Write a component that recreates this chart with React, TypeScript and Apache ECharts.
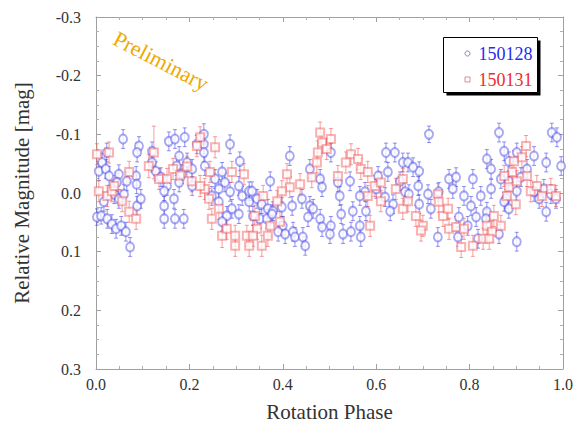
import React, { useEffect, useRef } from "react";
import * as echarts from "echarts";

// [phase, relative magnitude, error]
const series150128: number[][] = [
  [0.058,-0.092,0.016],[0.092,-0.080,0.016],[0.088,-0.069,0.016],[0.023,-0.069,0.016],[0.013,-0.052,0.016],[0.006,-0.037,0.016],[0.021,-0.041,0.016],[0.028,-0.029,0.016],[0.049,-0.032,0.016],[0.045,-0.018,0.016],[0.066,-0.020,0.016],[0.086,-0.029,0.016],[0.087,-0.015,0.016],[0.120,-0.071,0.016],[0.120,-0.052,0.016],[0.128,-0.037,0.016],[0.139,-0.027,0.016],[0.152,-0.012,0.016],[0.146,-0.003,0.016],[0.156,-0.088,0.016],[0.146,0.022,0.016],[0.146,0.044,0.016],[0.088,0.022,0.016],[0.096,0.010,0.016],[0.039,0.002,0.016],[0.049,0.010,0.016],[0.060,0.002,0.016],[0.002,0.041,0.014],[0.011,0.039,0.014],[0.024,0.044,0.016],[0.034,0.053,0.016],[0.043,0.061,0.016],[0.054,0.056,0.016],[0.064,0.066,0.016],[0.073,0.092,0.016],[0.017,0.015,0.016],
  [0.169,-0.092,0.016],[0.190,-0.095,0.016],[0.216,-0.083,0.016],[0.231,-0.100,0.018],[0.231,-0.083,0.016],[0.231,-0.069,0.016],[0.287,-0.083,0.016],[0.308,-0.054,0.016],[0.178,-0.063,0.016],[0.173,-0.046,0.016],[0.195,-0.052,0.016],[0.206,-0.041,0.016],[0.233,-0.046,0.016],[0.184,-0.032,0.016],[0.178,-0.018,0.016],[0.206,-0.012,0.016],[0.255,-0.024,0.016],[0.270,-0.036,0.016],[0.276,-0.018,0.016],[0.263,-0.007,0.016],[0.248,0.005,0.016],[0.287,-0.002,0.016],[0.306,-0.012,0.016],[0.313,0.005,0.016],[0.328,-0.003,0.016],[0.167,0.010,0.016],[0.169,0.044,0.016],[0.188,0.044,0.016],[0.263,0.015,0.016],[0.291,0.027,0.016],[0.280,0.039,0.016],[0.306,0.036,0.016],[0.328,0.015,0.016],[0.270,0.049,0.016],
  [0.415,-0.063,0.016],[0.373,-0.020,0.016],[0.458,-0.041,0.016],[0.480,-0.024,0.016],[0.484,-0.010,0.016],[0.334,-0.003,0.016],[0.345,0.010,0.016],[0.355,0.019,0.016],[0.368,0.027,0.016],[0.379,0.031,0.016],[0.398,0.024,0.016],[0.420,0.022,0.016],[0.441,0.010,0.016],[0.458,0.022,0.016],[0.465,0.027,0.016],[0.336,0.039,0.016],[0.351,0.044,0.016],[0.366,0.044,0.016],[0.377,0.036,0.016],[0.454,0.041,0.016],[0.480,0.044,0.016],[0.484,0.058,0.016],[0.400,0.056,0.016],[0.390,0.066,0.016],[0.405,0.070,0.016],[0.422,0.066,0.016],[0.426,0.075,0.016],[0.443,0.075,0.016],[0.448,0.090,0.016],
  [0.503,-0.069,0.016],[0.621,-0.069,0.016],[0.640,-0.069,0.016],[0.657,-0.052,0.016],[0.625,-0.036,0.016],[0.604,-0.029,0.016],[0.544,-0.020,0.016],[0.518,-0.018,0.016],[0.576,-0.002,0.016],[0.600,-0.007,0.016],[0.651,-0.020,0.016],[0.662,-0.002,0.016],[0.565,0.005,0.016],[0.619,0.007,0.016],[0.636,0.019,0.016],[0.522,0.005,0.016],[0.525,0.036,0.016],[0.550,0.031,0.016],[0.578,0.031,0.016],[0.630,0.031,0.016],[0.503,0.056,0.016],[0.529,0.070,0.016],[0.546,0.066,0.016],[0.565,0.056,0.016],[0.567,0.075,0.016],[0.501,0.070,0.016],
  [0.713,-0.100,0.014],[0.668,-0.052,0.016],[0.692,-0.037,0.016],[0.679,-0.044,0.016],[0.756,-0.024,0.016],[0.771,-0.027,0.016],[0.807,-0.024,0.016],[0.690,-0.012,0.016],[0.670,0.002,0.016],[0.711,0.002,0.016],[0.734,-0.002,0.016],[0.764,-0.007,0.016],[0.788,0.005,0.016],[0.824,0.005,0.016],[0.692,0.019,0.016],[0.717,0.027,0.016],[0.803,0.022,0.016],[0.777,0.041,0.016],[0.814,0.041,0.016],[0.732,0.075,0.016],[0.775,0.075,0.016],[0.818,0.078,0.016],[0.796,0.056,0.016],
  [0.863,-0.103,0.016],[0.874,-0.071,0.016],[0.837,-0.058,0.016],[0.846,-0.041,0.016],[0.884,-0.054,0.016],[0.901,-0.069,0.016],[0.923,-0.041,0.016],[0.938,-0.063,0.016],[0.964,-0.052,0.016],[0.976,-0.103,0.016],[0.987,-0.095,0.016],[0.996,-0.046,0.016],[0.867,-0.024,0.016],[0.884,-0.020,0.016],[0.910,-0.027,0.016],[0.846,-0.007,0.016],[0.901,-0.003,0.016],[0.938,-0.002,0.016],[0.959,-0.007,0.016],[0.974,0.002,0.016],[0.985,0.010,0.016],[0.949,0.010,0.016],[0.964,0.032,0.016],[0.878,0.010,0.016],[0.874,0.015,0.016],[0.884,0.027,0.016],[0.837,0.032,0.016],[0.835,0.044,0.016],[0.863,0.070,0.016],[0.901,0.083,0.016]
];

const series150131: number[][] = [
  [0.002,-0.066,0.018],[0.028,-0.069,0.018],[0.006,-0.003,0.018],[0.024,0.005,0.018],[0.034,-0.003,0.018],[0.039,-0.012,0.018],[0.056,0.014,0.018],[0.071,0.032,0.018],[0.086,0.044,0.018],[0.124,-0.069,0.045],[0.113,-0.046,0.020],[0.135,-0.024,0.018],[0.152,-0.024,0.018],[0.071,-0.036,0.018],
  [0.165,-0.041,0.018],[0.180,-0.030,0.018],[0.195,-0.045,0.018],[0.205,-0.020,0.018],[0.223,-0.095,0.018],
  [0.255,-0.078,0.018],[0.216,-0.080,0.018],[0.244,-0.036,0.018],[0.233,-0.007,0.018],[0.242,0.010,0.018],[0.263,0.027,0.018],[0.248,0.044,0.018],[0.270,0.073,0.020],[0.280,0.061,0.018],[0.298,0.073,0.018],[0.323,0.073,0.018],[0.298,0.090,0.018],[0.328,0.090,0.018],[0.223,-0.012,0.018],[0.291,-0.036,0.018],[0.317,-0.032,0.018],
  [0.480,-0.103,0.018],[0.484,-0.086,0.018],[0.475,-0.069,0.020],[0.494,-0.075,0.018],[0.473,-0.052,0.018],[0.462,-0.027,0.018],[0.437,-0.015,0.018],[0.409,-0.032,0.018],[0.415,-0.010,0.018],[0.398,-0.003,0.018],[0.388,0.014,0.018],[0.358,0.005,0.018],[0.345,0.061,0.018],[0.336,0.073,0.018],[0.355,0.090,0.018],[0.368,0.073,0.018],[0.373,0.056,0.018],[0.394,0.049,0.018],[0.340,0.039,0.018],
  [0.503,-0.092,0.018],[0.546,-0.066,0.018],[0.561,-0.058,0.018],[0.535,-0.052,0.018],[0.567,-0.041,0.018],[0.582,-0.036,0.018],[0.518,-0.029,0.018],[0.597,-0.012,0.018],[0.610,-0.018,0.018],[0.582,0.005,0.018],[0.642,-0.007,0.018],[0.657,-0.024,0.018],[0.587,0.056,0.018],[0.610,0.014,0.018],[0.657,0.027,0.018],
  [0.668,0.014,0.018],[0.685,0.039,0.018],[0.700,0.056,0.018],[0.696,0.064,0.018],[0.743,0.039,0.018],[0.754,0.027,0.018],[0.756,0.061,0.018],[0.771,0.058,0.018],[0.788,0.061,0.018],[0.782,0.092,0.018],[0.807,0.090,0.018],[0.829,0.078,0.018],[0.732,0.002,0.018],[0.734,0.015,0.018],
  [0.921,-0.080,0.018],[0.912,-0.061,0.018],[0.895,-0.054,0.018],[0.891,-0.036,0.018],[0.874,-0.029,0.018],[0.923,-0.029,0.018],[0.884,-0.010,0.018],[0.880,0.005,0.018],[0.899,0.019,0.018],[0.931,-0.003,0.018],[0.944,-0.012,0.018],[0.955,0.005,0.018],[0.974,-0.007,0.018],[0.985,0.005,0.018],[0.852,0.039,0.018],[0.837,0.056,0.018],[0.848,0.066,0.018],[0.867,0.056,0.018],[0.842,0.078,0.018],[0.901,-0.020,0.018]
];

const seriesNames = ["150128", "150131"];
const xTickValues = [0, 0.2, 0.4, 0.6, 0.8, 1.0];
const yTickValues = [-0.3, -0.2, -0.1, 0.0, 0.1, 0.2, 0.3];

const BLUE = "rgba(60,60,230,0.55)";
const RED = "rgba(240,80,80,0.55)";
const FONT = "Liberation Serif";

function fmt(v: number) {
  if (Math.abs(v) < 1e-9) return "0.0";
  return v.toFixed(1);
}

function errRender(color: string) {
  return (params: any, api: any) => {
    const x = api.value(0);
    const y = api.value(1);
    const e = api.value(2);
    const p1 = api.coord([x, y - e]);
    const p2 = api.coord([x, y + e]);
    const style = { stroke: color, lineWidth: 1 };
    return {
      type: "group",
      children: [
        { type: "line", shape: { x1: p1[0], y1: p1[1], x2: p2[0], y2: p2[1] }, style },
        { type: "line", shape: { x1: p1[0] - 2, y1: p1[1], x2: p1[0] + 2, y2: p1[1] }, style },
        { type: "line", shape: { x1: p2[0] - 2, y1: p2[1], x2: p2[0] + 2, y2: p2[1] }, style },
      ],
    };
  };
}

export default function App() {
  const ref = useRef<HTMLDivElement>(null);
  useEffect(() => {
    if (!ref.current) return;
    const chart = echarts.init(ref.current, null, { renderer: "svg" });
    const axisCommon = {
      min: 0,
      max: 1,
      interval: 0.2,
      axisLine: { onZero: false, lineStyle: { color: "#a0a0a0" } },
      axisTick: { inside: true, length: 5, lineStyle: { color: "#a0a0a0" } },
      minorTick: { show: true, splitNumber: 4, length: 3, lineStyle: { color: "#b0b0b0" } },
      splitLine: { show: false },
    };
    const yCommon = {
      min: -0.3,
      max: 0.3,
      interval: 0.1,
      inverse: true,
      axisLine: { onZero: false, lineStyle: { color: "#a0a0a0" } },
      axisTick: { inside: true, length: 5, lineStyle: { color: "#a0a0a0" } },
      minorTick: { show: true, splitNumber: 4, length: 3, lineStyle: { color: "#b0b0b0" } },
      splitLine: { show: false },
    };
    chart.setOption({
      animation: false,
      backgroundColor: "#ffffff",
      grid: { left: 96, width: 467, top: 17, height: 354, containLabel: false },
      xAxis: [
        {
          ...axisCommon,
          type: "value",
          position: "bottom",
          name: "Rotation Phase",
          nameLocation: "middle",
          nameGap: 32,
          nameTextStyle: { fontFamily: FONT, fontSize: 21, color: "#333" },
          axisLabel: {
            fontFamily: FONT,
            fontSize: 16,
            color: "#333",
            margin: 7,
            formatter: (v: number) => (xTickValues.some((t) => Math.abs(t - v) < 1e-9) ? fmt(v) : ""),
          },
        },
        {
          ...axisCommon,
          type: "value",
          position: "top",
          axisLabel: { show: false },
        },
      ],
      yAxis: [
        {
          ...yCommon,
          type: "value",
          position: "left",
          name: "Relative Magnitude [mag]",
          nameLocation: "middle",
          nameGap: 64,
          nameTextStyle: { fontFamily: FONT, fontSize: 21, color: "#333" },
          axisLabel: {
            fontFamily: FONT,
            fontSize: 16,
            color: "#333",
            margin: 15,
            formatter: (v: number) => (yTickValues.some((t) => Math.abs(t - v) < 1e-9) ? fmt(v) : ""),
          },
        },
        {
          ...yCommon,
          type: "value",
          position: "right",
          axisLabel: { show: false },
        },
      ],
      series: [
        {
          type: "custom",
          name: seriesNames[0] + " err",
          renderItem: errRender(BLUE),
          data: series150128,
          encode: { x: 0, y: 1 },
          z: 2,
        },
        {
          type: "custom",
          name: seriesNames[1] + " err",
          renderItem: errRender(RED),
          data: series150131,
          encode: { x: 0, y: 1 },
          z: 2,
        },
        {
          type: "scatter",
          name: seriesNames[0],
          data: series150128.map((d) => [d[0], d[1]]),
          symbol: "emptyCircle",
          symbolSize: [8, 9],
          itemStyle: { color: BLUE, borderColor: BLUE, borderWidth: 1 },
          z: 3,
        },
        {
          type: "scatter",
          name: seriesNames[1],
          data: series150131.map((d) => [d[0], d[1]]),
          symbol: "emptyRect",
          symbolSize: 8,
          itemStyle: { color: RED, borderColor: RED, borderWidth: 1 },
          z: 3,
        },
      ],
      graphic: [
        {
          type: "text",
          x: 161,
          y: 61,
          rotation: -0.48,
          style: {
            text: "Preliminary",
            fontFamily: FONT,
            fontSize: 22,
            fill: "#f0a800",
            textAlign: "center",
            textVerticalAlign: "middle",
          },
          z: 10,
        },
        {
          type: "group",
          left: 443,
          top: 37,
          z: 10,
          children: [
            { type: "rect", shape: { x: 3, y: 3, width: 94, height: 55 }, style: { fill: "#000" } },
            { type: "rect", shape: { x: 0, y: 0, width: 94, height: 55 }, style: { fill: "#fff", stroke: "#000", lineWidth: 1 } },
            { type: "circle", shape: { cx: 24, cy: 16, r: 2.5 }, style: { fill: "none", stroke: "rgba(80,80,160,0.7)", lineWidth: 1 } },
            { type: "text", x: 35, y: 16, style: { text: seriesNames[0], fontFamily: FONT, fontSize: 18, fill: "#2a2af0", textVerticalAlign: "middle" } },
            { type: "rect", shape: { x: 21.5, y: 39.5, width: 5, height: 5 }, style: { fill: "none", stroke: "rgba(200,100,100,0.7)", lineWidth: 1 } },
            { type: "text", x: 35, y: 42, style: { text: seriesNames[1], fontFamily: FONT, fontSize: 18, fill: "#f02a2a", textVerticalAlign: "middle" } },
          ],
        },
      ],
    });
    return () => chart.dispose();
  }, []);
  return <div ref={ref} style={{ width: 582, height: 427, position: "absolute", left: 0, top: 0 }} />;
}
